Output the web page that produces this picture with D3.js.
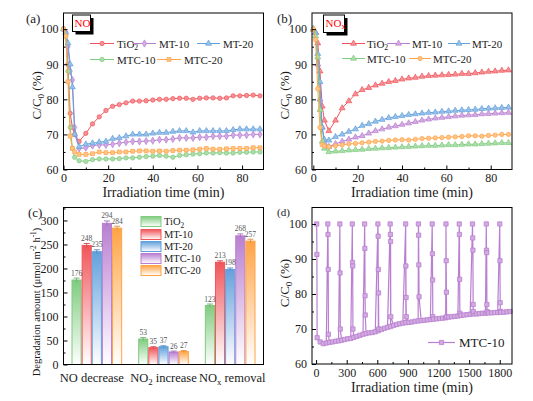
<!DOCTYPE html>
<html>
<head>
<meta charset="utf-8">
<script src="https://cdn.jsdelivr.net/npm/d3@7"></script>
<style>
  body { margin: 0; background: #fff; }
  svg, svg text { font-family: "Liberation Serif", "Times New Roman", serif; }
</style>
</head>
<body>
<svg id="chart" width="533" height="401" font-family="Liberation Serif, serif"></svg>
<script>
// ---- data ----
const samples = ['TiO2', 'MT-10', 'MT-20', 'MTC-10', 'MTC-20'];

// (a) NO and (b) NOx, C/C0 (%) vs irradiation time (min)
const timeAB = [0, 1, 2, 3, 4, 5, 7, 10, 13, 16, 19, 22, 25, 28, 31, 34, 37, 40, 43, 46, 49, 52, 55, 58, 61, 64, 67, 70, 73, 76, 79, 82, 85, 88];

const noTiO2  = [100, 99, 90, 76, 72, 70, 68, 70.3, 73, 75, 76.8, 78, 78.5, 79, 79.5, 79.5, 79.6, 79.8, 80, 80, 80.2, 80.3, 80.3, 80, 80.3, 80.4, 80.4, 80.3, 80.4, 81, 81, 81.1, 81.2, 81];
const noMT10  = [100, 99, 95, 88, 85.5, 72, 66, 66.2, 66.8, 67, 67, 67.2, 67.5, 67.8, 68, 68, 68.1, 68.2, 68.5, 68.5, 68.7, 69, 69, 69, 69.2, 69.2, 69.5, 69.5, 69.5, 69.8, 69.8, 69.8, 70, 70];
const noMT20  = [100, 99, 96, 90, 83.5, 70, 66.5, 67.2, 67.5, 67.8, 68, 68.8, 69, 69.5, 70, 70, 70, 70.3, 70.5, 70.5, 70.8, 71, 71, 70.6, 71, 71, 71, 71, 71, 71.3, 71.5, 71.5, 71.5, 71.5];
const noMTC10 = [100, 98, 88, 72, 66, 63.5, 62.5, 62.3, 62.8, 63, 63, 63, 63.1, 63.3, 63.3, 63.5, 63.7, 63.8, 64, 63.8, 63.5, 64, 64.2, 64.4, 64.5, 64.7, 64.7, 64.8, 64.7, 64.7, 64.9, 64.9, 65, 65];
const noMTC20 = [100, 98, 85, 69.5, 66, 65, 64.3, 64.3, 64.5, 65, 64.8, 64.8, 65, 65, 65.2, 65.3, 65.3, 65.2, 65.3, 65.2, 65.4, 65.5, 65.5, 65.6, 65.8, 66, 65.8, 65.8, 65.9, 66, 66, 66, 66.2, 66.2];

const noxTiO2  = [100, 99, 96, 88, 78, 74, 71, 74, 77.5, 79.5, 81.5, 82.7, 83.3, 84, 84.5, 85, 85.3, 85.7, 86, 86.2, 86.5, 86.7, 86.8, 86.9, 87, 87.1, 87.3, 87.3, 87.5, 87.7, 87.9, 88, 88.2, 88.3];
const noxMT10  = [100, 99, 90, 80, 72, 67.5, 66.5, 67.3, 68, 68.6, 69.2, 69.6, 70.3, 71, 71.5, 72, 72.4, 72.8, 73.2, 73.6, 74, 74.3, 74.6, 74.8, 75, 75.2, 75.4, 75.5, 75.6, 75.8, 75.9, 76, 76.1, 76.2];
const noxMT20  = [100, 99, 93, 85, 72, 68.5, 68.3, 69.3, 70, 70.8, 71.5, 72.5, 73, 73.7, 74.2, 74.7, 75, 75.3, 75.6, 75.8, 76, 76.2, 76.3, 76.5, 76.6, 76.8, 76.9, 77, 77.1, 77.3, 77.4, 77.5, 77.6, 77.7];
const noxMTC10 = [100, 98, 92, 77, 68, 66, 65, 65.2, 65.3, 65.5, 65.6, 65.7, 65.9, 66, 66.1, 66.2, 66.3, 66.4, 66.5, 66.6, 66.7, 66.8, 66.8, 66.9, 67, 67, 67.1, 67.2, 67.2, 67.3, 67.4, 67.5, 67.6, 67.6];
const noxMTC20 = [100, 97, 83, 72, 67, 66.7, 66.5, 66.8, 67, 67.3, 67.4, 67.6, 67.8, 68, 68.1, 68.3, 68.4, 68.5, 68.4, 68.6, 68.8, 68.9, 69, 69.1, 69.2, 69.3, 69.4, 69.6, 69.6, 69.5, 69.7, 69.8, 70, 70];

// (c) degradation amount (umol m-2 h-1)
const cGroups = ['NO decrease', 'NO2 increase', 'NOx removal'];
const cNODecrease  = [176, 248, 235, 294, 284];
const cNO2Increase = [53, 35, 37, 26, 27];
const cNOxRemoval  = [123, 213, 198, 268, 257];
const cErrNO  = [4, 4, 4, 5, 4];
const cErrNO2 = [3, 2, 2, 2, 2];
const cErrNOx = [3, 3, 3, 4, 4];

// (d) MTC-10 cycling test
const dCycleStart = [6, 115, 233, 355, 476, 606, 726, 878, 1003, 1138, 1273, 1403, 1533, 1668, 1800];
const dSpike = [
  [100, 91.3], [100, 97, 87, 68.5], [100, 86, 70], [100, 89, 88, 70], [100, 93, 79.5, 74],
  [100, 96.5, 87, 80.3, 70], [100, 97, 95, 73.5], [100, 88, 79, 73.5], [100, 96.8, 88.3, 79.2],
  [100, 91.5, 84, 73.5], [100, 89.5, 80.5, 73.5], [100, 97, 84.2, 74.5], [100, 96, 92.5, 77, 75],
  [100, 92.5, 91.8, 77, 75], [100, 89.5, 77.5, 75]
];
const dBaseline = [
  [10, 67.5], [40, 66.3], [70, 65.8], [100, 66], [130, 66.2], [160, 66.3], [190, 66.5], [220, 66.6],
  [250, 66.8], [280, 67], [310, 67.2], [340, 67.3], [370, 67.6], [400, 67.9], [430, 68.2], [460, 68.5],
  [490, 68.7], [520, 68.9], [550, 69], [580, 69.2], [610, 69.5], [640, 69.9], [670, 70.2], [700, 70.5],
  [730, 70.7], [760, 71], [790, 71.3], [820, 71.5], [850, 71.7], [880, 71.8], [910, 71.9], [940, 72],
  [970, 72.2], [1000, 72.3], [1030, 72.4], [1060, 72.5], [1090, 72.6], [1120, 72.7], [1150, 72.8], [1180, 72.9],
  [1210, 73], [1240, 73.1], [1270, 73.2], [1300, 73.4], [1330, 73.5], [1360, 73.6], [1390, 73.7], [1420, 73.9],
  [1450, 74], [1480, 74.1], [1510, 74.2], [1540, 74.3], [1570, 74.3], [1600, 74.4], [1630, 74.5], [1660, 74.5],
  [1690, 74.6], [1720, 74.6], [1750, 74.7], [1780, 74.7], [1810, 74.8], [1840, 74.8], [1870, 74.9], [1900, 75]
];

// ---- colours ----
const red = '#f0565b', purple = '#b97fd1', blue = '#62a0dc', green = '#7fcb7f', orange = '#ffa447';
const lineColors = [red, purple, blue, green, orange];
const barColors = [green, red, blue, purple, orange];
const lighten = (c, k) => d3.interpolateRgb(c, '#fff')(k);
const FONT = '"Liberation Serif", "Times New Roman", serif';
const INK = '#1a1a1a';

const svg = d3.select('#chart').attr('font-family', FONT);
const defs = svg.append('defs');

// text with sub/superscripts: parts = [[text, kind], ...]
function richText(sel, parts, size) {
  sel.attr('font-family', FONT);
  parts.forEach(([t, k]) => {
    const ts = sel.append('tspan').text(t);
    if (k === 'sub') ts.attr('font-size', size * 0.7).attr('dy', size * 0.25);
    if (k === 'sup') ts.attr('font-size', size * 0.7).attr('dy', -size * 0.4);
    if (k === 'back-sub') ts.attr('dy', -size * 0.25);
    if (k === 'back-sup') ts.attr('dy', size * 0.4);
  });
  return sel;
}
const sampleParts = s => s === 'TiO2' ? [['TiO'], ['2', 'sub']] : [[s]];

function drawAxes(g, x, y, cfg) {
  const [xl, xr] = x.range();
  const [yb, yt] = y.range();
  const style = a => {
    a.attr('font-family', FONT).attr('font-size', 12);
    a.select('.domain').remove();
    a.selectAll('line').attr('stroke', '#000');
    a.selectAll('text').attr('fill', INK);
  };
  const fmt = d3.format('d');
  if (cfg.xTicks) {
    g.append('g').attr('transform', `translate(0,${yb})`)
      .call(d3.axisBottom(x).tickValues(cfg.xMinor).tickSize(-2).tickFormat('')).call(style);
    g.append('g').attr('transform', `translate(0,${yb})`)
      .call(d3.axisBottom(x).tickValues(cfg.xTicks).tickSize(-4).tickPadding(4).tickFormat(fmt)).call(style);
  }
  g.append('g').attr('transform', `translate(${xl},0)`)
    .call(d3.axisLeft(y).tickValues(cfg.yMinor).tickSize(-2).tickFormat('')).call(style);
  g.append('g').attr('transform', `translate(${xl},0)`)
    .call(d3.axisLeft(y).tickValues(cfg.yTicks).tickSize(-4).tickPadding(5).tickFormat(fmt)).call(style);
  g.append('rect').attr('x', xl).attr('y', yt).attr('width', xr - xl).attr('height', yb - yt)
    .attr('fill', 'none').attr('stroke', '#000').attr('stroke-width', 1);
}

function yLabel(g, x, y, parts, size) {
  const t = g.append('text').attr('transform', `translate(${x},${y}) rotate(-90)`)
    .attr('text-anchor', 'middle').attr('font-size', size).attr('fill', INK);
  richText(t, parts, size);
}

function panelLabel(x, y, s, size) {
  svg.append('text').attr('x', x).attr('y', y).attr('font-size', size).attr('font-family', FONT)
    .attr('fill', INK).text(s);
}

const ccParts = [['C/C'], ['0', 'sub'], [' (%)', 'back-sub']];

// ---- (a), (b) line panels ----
function linePanel(cfg) {
  const g = svg.append('g');
  const x = d3.scaleLinear().domain(cfg.xDomain).range(cfg.xRange);
  const y = d3.scaleLinear().domain([60, 104.6]).range(cfg.yRange);
  const line = d3.line().x(d => x(d[0])).y(d => y(d[1]));

  cfg.series.forEach((vals, i) => {
    const pts = timeAB.map((t, j) => [t, vals[j]]);
    const c = lineColors[i];
    g.append('path').datum(pts).attr('d', line).attr('fill', 'none')
      .attr('stroke', c).attr('stroke-width', 1);
    const sym = d3.symbol().type(cfg.symbols[i]).size(15);
    g.append('g').selectAll('path').data(pts).join('path')
      .attr('transform', d => `translate(${x(d[0])},${y(d[1])})`)
      .attr('d', sym).attr('fill', lighten(c, 0.35)).attr('stroke', c).attr('stroke-width', 0.7);
  });

  drawAxes(g, x, y, {
    xTicks: [0, 20, 40, 60, 80], xMinor: [10, 30, 50, 70],
    yTicks: [60, 70, 80, 90, 100], yMinor: [65, 75, 85, 95]
  });

  // gas tag box
  const [bx, by, bw, bh] = cfg.tagBox;
  g.append('rect').attr('x', bx + 3).attr('y', by + 3).attr('width', bw).attr('height', bh).attr('fill', '#000');
  g.append('rect').attr('x', bx).attr('y', by).attr('width', bw).attr('height', bh)
    .attr('fill', '#fff').attr('stroke', '#000').attr('stroke-width', 1);
  const tag = g.append('text').attr('x', bx + 2).attr('y', by + 11.5).attr('font-size', 11).attr('fill', '#f00');
  richText(tag, cfg.tagParts, 11);

  // legend
  samples.forEach((s, i) => {
    const [lx, ly, len, tx] = cfg.legend[i];
    const c = lineColors[i];
    g.append('line').attr('x1', lx).attr('x2', lx + len).attr('y1', ly).attr('y2', ly)
      .attr('stroke', c).attr('stroke-width', 1);
    g.append('path').attr('transform', `translate(${lx + len / 2},${ly})`)
      .attr('d', d3.symbol().type(cfg.symbols[i]).size(15))
      .attr('fill', lighten(c, 0.35)).attr('stroke', c).attr('stroke-width', 0.7);
    const t = g.append('text').attr('x', tx).attr('y', ly + 4).attr('font-size', 11).attr('fill', INK);
    richText(t, sampleParts(s), 11);
  });

  const xl = g.append('text').attr('x', (cfg.xRange[0] + cfg.xRange[1]) / 2).attr('y', cfg.yRange[0] + 27.5)
    .attr('text-anchor', 'middle').attr('font-size', 14).attr('fill', INK);
  richText(xl, [['Irradiation time (min)']], 14);
  yLabel(g, cfg.xRange[0] - 23, (cfg.yRange[0] + cfg.yRange[1]) / 2 + 4, ccParts, 13);
}

linePanel({
  series: [noTiO2, noMT10, noMT20, noMTC10, noMTC20],
  symbols: [d3.symbolCircle, d3.symbolDiamond, d3.symbolTriangle, d3.symbolCircle, d3.symbolSquare],
  xDomain: [0, 89.6], xRange: [63.5, 263.5], yRange: [169.5, 13],
  tagBox: [72.5, 15, 18, 16.5], tagParts: [['NO']],
  legend: [[90, 43.5, 24, 117], [133, 43.5, 23, 159], [197, 43.5, 23, 223], [90, 59.5, 24, 117], [157, 59.5, 24, 184]]
});
linePanel({
  series: [noxTiO2, noxMT10, noxMT20, noxMTC10, noxMTC20],
  symbols: [d3.symbolTriangle, d3.symbolTriangle, d3.symbolTriangle, d3.symbolTriangle, d3.symbolCircle],
  xDomain: [-0.6, 89.6], xRange: [312, 512], yRange: [169.5, 13],
  tagBox: [323.5, 15, 21, 17.5], tagParts: [['NO'], ['x', 'sub']],
  legend: [[342, 43.5, 23, 367], [387, 43.5, 23, 412], [448, 43.5, 22, 472], [342, 58.5, 23, 367], [409, 58.5, 22, 433]]
});

// ---- (c) grouped bars ----
(() => {
  const g = svg.append('g');
  const cValues = [cNODecrease, cNO2Increase, cNOxRemoval];
  const cErrors = [cErrNO, cErrNO2, cErrNOx];
  const x0 = d3.scaleBand().domain(cGroups).range([63.5, 263.5]).paddingInner(0.24).paddingOuter(0.12);
  const x1 = d3.scaleBand().domain(samples).range([0, x0.bandwidth()]);
  const y = d3.scaleLinear().domain([0, 327]).range([364.5, 207.5]);

  barColors.forEach((c, i) => {
    const gr = defs.append('linearGradient').attr('id', 'grad' + i)
      .attr('x1', 0).attr('y1', 0).attr('x2', 0).attr('y2', 1);
    gr.append('stop').attr('offset', '0%').attr('stop-color', c);
    gr.append('stop').attr('offset', '100%').attr('stop-color', '#fff');
  });

  const rows = [];
  cGroups.forEach((grp, gi) => samples.forEach((s, si) => {
    rows.push({ grp, s, si, v: cValues[gi][si], e: cErrors[gi][si] });
  }));

  const bw = x1.bandwidth();
  g.selectAll('rect.bar').data(rows).join('rect').attr('class', 'bar')
    .attr('x', d => x0(d.grp) + x1(d.s) + 0.5).attr('width', bw - 1)
    .attr('y', d => y(d.v)).attr('height', d => y(0) - y(d.v))
    .attr('fill', d => `url(#grad${d.si})`).attr('stroke', d => barColors[d.si]).attr('stroke-width', 1);

  const eb = g.selectAll('g.err').data(rows).join('g').attr('class', 'err')
    .attr('stroke', d => d3.color(barColors[d.si]).darker(0.4)).attr('stroke-width', 0.9);
  const cx = d => x0(d.grp) + x1(d.s) + bw / 2;
  eb.append('line').attr('x1', cx).attr('x2', cx).attr('y1', d => y(d.v - d.e)).attr('y2', d => y(d.v + d.e));
  eb.append('line').attr('x1', d => cx(d) - 3).attr('x2', d => cx(d) + 3).attr('y1', d => y(d.v + d.e)).attr('y2', d => y(d.v + d.e));

  g.selectAll('text.val').data(rows).join('text').attr('class', 'val')
    .attr('x', cx).attr('y', d => y(d.v + d.e) - 2.5).attr('text-anchor', 'middle')
    .attr('font-family', FONT).attr('font-size', 7.5).attr('fill', '#555').text(d => d.v);

  drawAxes(g, x0, y, {
    yTicks: [0, 50, 100, 150, 200, 250, 300], yMinor: [25, 75, 125, 175, 225, 275, 325]
  });

  // category labels
  const catParts = {
    'NO decrease': [['NO decrease']],
    'NO2 increase': [['NO'], ['2', 'sub'], [' increase', 'back-sub']],
    'NOx removal': [['NO'], ['x', 'sub'], [' removal', 'back-sub']]
  };
  const catShift = [-5, 0, 2];
  cGroups.forEach((grp, gi) => {
    const t = g.append('text').attr('x', x0(grp) + x0.bandwidth() / 2 + catShift[gi]).attr('y', 382)
      .attr('text-anchor', 'middle').attr('font-size', 12.5).attr('fill', INK);
    richText(t, catParts[grp], 12.5);
  });

  // legend
  samples.forEach((s, i) => {
    const ly = 216.5 + i * 12 + (i > 0 ? 1 : 0);
    g.append('rect').attr('x', 141).attr('y', ly).attr('width', 20).attr('height', 10)
      .attr('fill', `url(#grad${i})`).attr('stroke', barColors[i]).attr('stroke-width', 1);
    const t = g.append('text').attr('x', 164).attr('y', ly + 8.5).attr('font-size', 10.5).attr('fill', INK);
    richText(t, sampleParts(s), 10.5);
  });

  yLabel(g, 40, 302, [['Degradation amount (μmol m'], ['-2', 'sup'], [' h', 'back-sup'], ['-1', 'sup'], [')', 'back-sup']], 10.5);
})();

// ---- (d) cycling ----
(() => {
  const g = svg.append('g');
  const x = d3.scaleLinear().domain([-40, 1920]).range([312, 512]);
  const y = d3.scaleLinear().domain([60, 104.7]).range([364, 207.5]);
  const pts = dBaseline.map(d => [d[0], d[1]]);
  dCycleStart.forEach((t0, ci) => dSpike[ci].forEach((v, k) => pts.push([t0 + k * 2, v])));
  pts.sort((a, b) => a[0] - b[0]);

  g.append('path').datum(pts).attr('d', d3.line().x(d => x(d[0])).y(d => y(d[1])))
    .attr('fill', 'none').attr('stroke', purple).attr('stroke-width', 1.2);
  const sym = d3.symbol().type(d3.symbolSquare).size(18);
  g.append('g').selectAll('path').data(pts).join('path')
    .attr('transform', d => `translate(${x(d[0])},${y(d[1])})`)
    .attr('d', sym).attr('fill', lighten(purple, 0.35)).attr('stroke', purple).attr('stroke-width', 0.8);

  drawAxes(g, x, y, {
    xTicks: [0, 300, 600, 900, 1200, 1500, 1800], xMinor: [150, 450, 750, 1050, 1350, 1650],
    yTicks: [60, 70, 80, 90, 100], yMinor: [65, 75, 85, 95]
  });

  g.append('line').attr('x1', 428).attr('x2', 455).attr('y1', 342.5).attr('y2', 342.5)
    .attr('stroke', purple).attr('stroke-width', 1.2);
  g.append('path').attr('transform', 'translate(441.5,342.5)').attr('d', sym)
    .attr('fill', lighten(purple, 0.35)).attr('stroke', purple).attr('stroke-width', 0.8);
  const lt = g.append('text').attr('x', 459).attr('y', 347).attr('font-size', 13).attr('fill', INK);
  richText(lt, [['MTC-10']], 13);

  const xl = g.append('text').attr('x', 412).attr('y', 391.5).attr('text-anchor', 'middle')
    .attr('font-size', 14).attr('fill', INK);
  richText(xl, [['Irradiation time (min)']], 14);
  yLabel(g, 289, 283, ccParts, 13);
})();

panelLabel(26, 23, '(a)', 13);
panelLabel(277, 23, '(b)', 13);
panelLabel(28, 217, '(c)', 13);
panelLabel(277, 216, '(d)', 11);
</script>
</body>
</html>
